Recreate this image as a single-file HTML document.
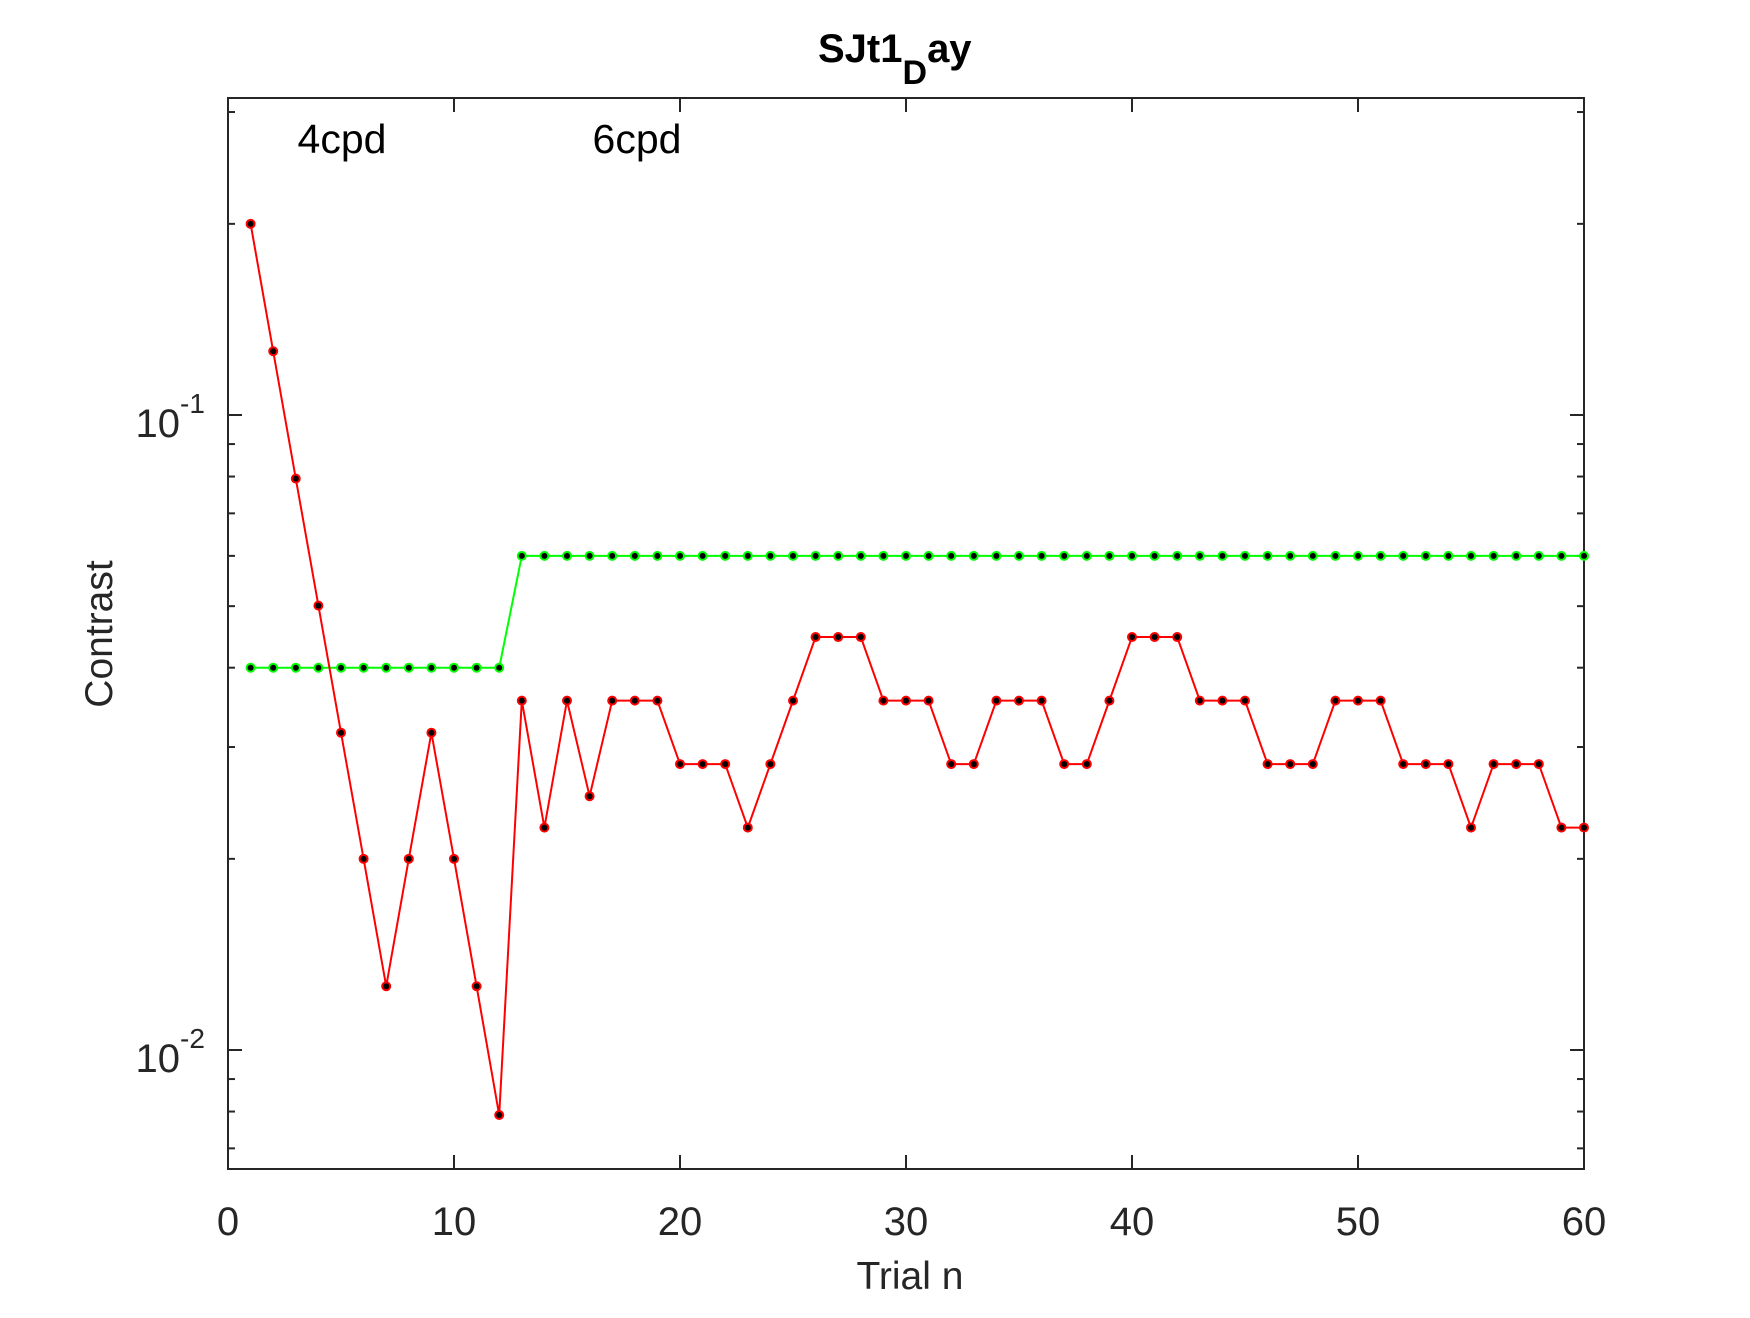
<!DOCTYPE html>
<html><head><meta charset="utf-8"><style>
html,body{margin:0;padding:0;background:#fff;}
svg text{font-family:"Liberation Sans",Arial,sans-serif;}
</style></head><body>
<svg id="chart" width="1750" height="1313" viewBox="0 0 1750 1313" xmlns="http://www.w3.org/2000/svg">
<rect width="1750" height="1313" fill="#fff"/>
<text x="818" y="62" font-size="40" font-weight="bold" fill="#000">SJt1<tspan font-size="34" dy="22">D</tspan><tspan dy="-22">ay</tspan></text>
<text x="342" y="153" font-size="41" text-anchor="middle" fill="#000">4cpd</text>
<text x="637" y="153" font-size="41" text-anchor="middle" fill="#000">6cpd</text>
<text x="910" y="1289" font-size="39" text-anchor="middle" fill="#262626">Trial n</text>
<text x="112" y="634" font-size="39" text-anchor="middle" fill="#262626" transform="rotate(-90 112 634)">Contrast</text>
<g id="axes"></g>
<g id="series"></g>
</svg>
<script>
const xTicks = [0,10,20,30,40,50,60];
const yMajor = [-1,-2];
const yMinor = [0.007,0.008,0.009,0.02,0.03,0.04,0.05,0.06,0.07,0.08,0.09,0.2,0.3];
const trials = [];
for (let i = 1; i <= 60; i++) trials.push(i);
const redValues = [0.2,0.126,0.0794,0.0501,0.0316,0.02,0.0126,0.02,0.0316,0.02,0.0126,0.0079,
0.0355,0.0224,0.0355,0.0251,0.0355,0.0355,0.0355,0.0282,0.0282,0.0282,0.0224,0.0282,0.0355,
0.0447,0.0447,0.0447,0.0355,0.0355,0.0355,0.0282,0.0282,0.0355,0.0355,0.0355,0.0282,0.0282,
0.0355,0.0447,0.0447,0.0447,0.0355,0.0355,0.0355,0.0282,0.0282,0.0282,0.0355,0.0355,0.0355,
0.0282,0.0282,0.0282,0.0224,0.0282,0.0282,0.0282,0.0224,0.0224];
const greenValues = [0.04,0.04,0.04,0.04,0.04,0.04,0.04,0.04,0.04,0.04,0.04,0.04,
0.06,0.06,0.06,0.06,0.06,0.06,0.06,0.06,0.06,0.06,0.06,0.06,0.06,0.06,0.06,0.06,0.06,0.06,
0.06,0.06,0.06,0.06,0.06,0.06,0.06,0.06,0.06,0.06,0.06,0.06,0.06,0.06,0.06,0.06,0.06,0.06,
0.06,0.06,0.06,0.06,0.06,0.06,0.06,0.06,0.06,0.06,0.06,0.06];

const L=228,R=1584,T=98,B=1169;
const X=v=>L+(v-0)/60*(R-L);
const Y=v=>415+(-1-Math.log10(v))*635;
const NS="http://www.w3.org/2000/svg";
function mk(tag,attrs,parent){const e=document.createElementNS(NS,tag);for(const k in attrs)e.setAttribute(k,attrs[k]);parent.appendChild(e);return e;}
const ax=document.getElementById('axes');
const box=mk('rect',{x:L,y:T,width:R-L,height:B-T,fill:'none',stroke:'#262626','stroke-width':2},ax);


xTicks.forEach(t=>{
  const x=X(t);
  const l1=mk('line',{x1:x,y1:B,x2:x,y2:B-14,stroke:'#262626','stroke-width':2},ax);
  
  
  const l2=mk('line',{x1:x,y1:T,x2:x,y2:T+14,stroke:'#262626','stroke-width':2},ax);
  
  
  const tx=mk('text',{x:x,y:1235,'font-size':40,'text-anchor':'middle',fill:'#262626'},ax);
  tx.textContent=t;
  
  
});
yMajor.forEach(p=>{
  const y=Y(Math.pow(10,p));
  const l1=mk('line',{x1:L,y1:y,x2:L+14,y2:y,stroke:'#262626','stroke-width':2},ax);
  
  
  const l2=mk('line',{x1:R,y1:y,x2:R-14,y2:y,stroke:'#262626','stroke-width':2},ax);
  
  
  const tx=mk('text',{x:180,y:y+22,'font-size':40,'text-anchor':'end',fill:'#262626'},ax);
  tx.textContent='10';
  
  
  const sp=mk('text',{x:180,y:y-2,'font-size':28,'text-anchor':'start',fill:'#262626'},ax);
  sp.textContent=String(p);
  
  
});
yMinor.forEach(v=>{
  const y=Y(v);
  if(y<T||y>B)return;
  const l1=mk('line',{x1:L,y1:y,x2:L+7,y2:y,stroke:'#262626','stroke-width':2},ax);
  
  
  const l2=mk('line',{x1:R,y1:y,x2:R-7,y2:y,stroke:'#262626','stroke-width':2},ax);
  
  
});
const sg=document.getElementById('series');
function drawSeries(vals,color,name){
  const pts=vals.map((v,i)=>X(trials[i])+','+Y(v)).join(' ');
  const pl=mk('polyline',{points:pts,fill:'none',stroke:color,'stroke-width':2},sg);
  
  
  vals.forEach((v,i)=>{
    const c=mk('circle',{cx:X(trials[i]),cy:Y(v),r:4,fill:'#000',stroke:color,'stroke-width':2},sg);
    
    
  });
}
drawSeries(greenValues,'#00ff00','threshold');
drawSeries(redValues,'#ff0000','contrast');
</script>
</body></html>
